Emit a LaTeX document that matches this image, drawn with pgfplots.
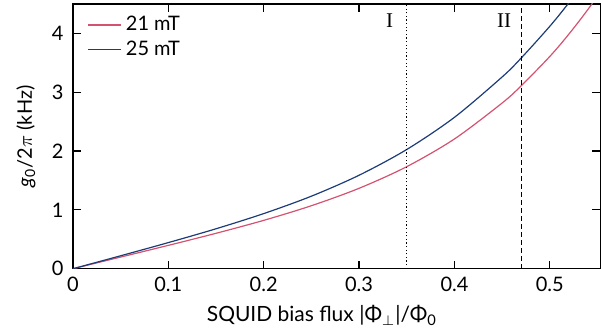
\documentclass[border=0pt]{standalone}
\usepackage{fontspec}
\setmainfont{Lato}
\newfontfamily\seriffont{Liberation Serif}
\usepackage{pgfplots}
\pgfplotsset{compat=1.18}
\definecolor{cred}{RGB}{212,82,112}
\definecolor{cblue}{RGB}{28,60,120}
\begin{document}
\fontsize{10}{12}\selectfont
\begin{tikzpicture}
\begin{axis}[
  scale only axis, width=264pt, height=132.5pt,
  xmin=0, xmax=0.553, ymin=0, ymax=4.5,
  xtick={0,0.1,0.2,0.3,0.4,0.5}, ytick={0,1,2,3,4},
  xticklabels={0,0.1,0.2,0.3,0.4,0.5},
  tick align=inside, major tick length=4pt,
  /pgf/number format/assume math mode=true,
  tick label style={font=\fontsize{10}{12}\selectfont},
  yticklabel style={xshift=-1.2pt},
  xticklabel style={yshift=-0.5pt},
  axis line style={line width=0.6pt},
  every tick/.style={black, line width=0.6pt},
  xlabel={SQUID bias flux |Φ\textsubscript{$\perp$}|/Φ\textsubscript{0}},
  ylabel={\textit{g}\textsubscript{0}/2$\pi$ (kHz)},
  xlabel style={font=\fontsize{10.5}{12}\selectfont, at={(axis description cs:0.472,-0.177)}, anchor=center},
  ylabel style={font=\fontsize{10}{12}\selectfont, at={(axis description cs:-0.089,0.5)}, anchor=center},
  legend style={at={(axis description cs:0.016,0.985)}, anchor=north west, draw=none, fill=none,
    font=\fontsize{10}{12}\selectfont, row sep=-0.5pt},
  legend cell align=left,
  legend image code/.code={\draw[#1] (0cm,0cm) -- (0.58cm,0cm);},
]
\addplot[cred, line width=0.6pt, smooth] coordinates {
(0,0) (0.05,0.198) (0.1,0.397) (0.15,0.602) (0.2,0.822) (0.25,1.071) (0.3,1.367)
(0.35,1.735) (0.4,2.206) (0.45,2.817) (0.47,3.11) (0.5,3.609) (0.52,3.989) (0.54,4.409) (0.56,4.874)
};
\addlegendentry{21 mT}
\addplot[cblue, line width=0.6pt, smooth] coordinates {
(0,0) (0.05,0.220) (0.1,0.444) (0.15,0.679) (0.2,0.937) (0.25,1.233) (0.3,1.589)
(0.35,2.027) (0.4,2.574) (0.45,3.260) (0.47,3.582) (0.5,4.122) (0.52,4.522) (0.54,4.959)
};
\addlegendentry{25 mT}
\addplot[black, line width=0.55pt, dash pattern=on 0.6pt off 1.2pt, forget plot] coordinates {(0.35,0) (0.35,4.5)};
\addplot[black, line width=0.55pt, dash pattern=on 2.6pt off 1.4pt, forget plot] coordinates {(0.47,0) (0.47,4.5)};
\node[font=\seriffont\fontsize{10.5}{12}\selectfont] at (axis cs:0.332,4.22) {I};
\node[font=\seriffont\fontsize{10.5}{12}\selectfont] at (axis cs:0.452,4.22) {II};
\end{axis}
\pgfresetboundingbox
\path (current axis.south west) ++(-36.5pt,-33pt) coordinate (bbsw);
\path (current axis.north east) ++(0.3pt,2pt) coordinate (bbne);
\useasboundingbox (bbsw) rectangle (bbne);
\end{tikzpicture}
\end{document}
